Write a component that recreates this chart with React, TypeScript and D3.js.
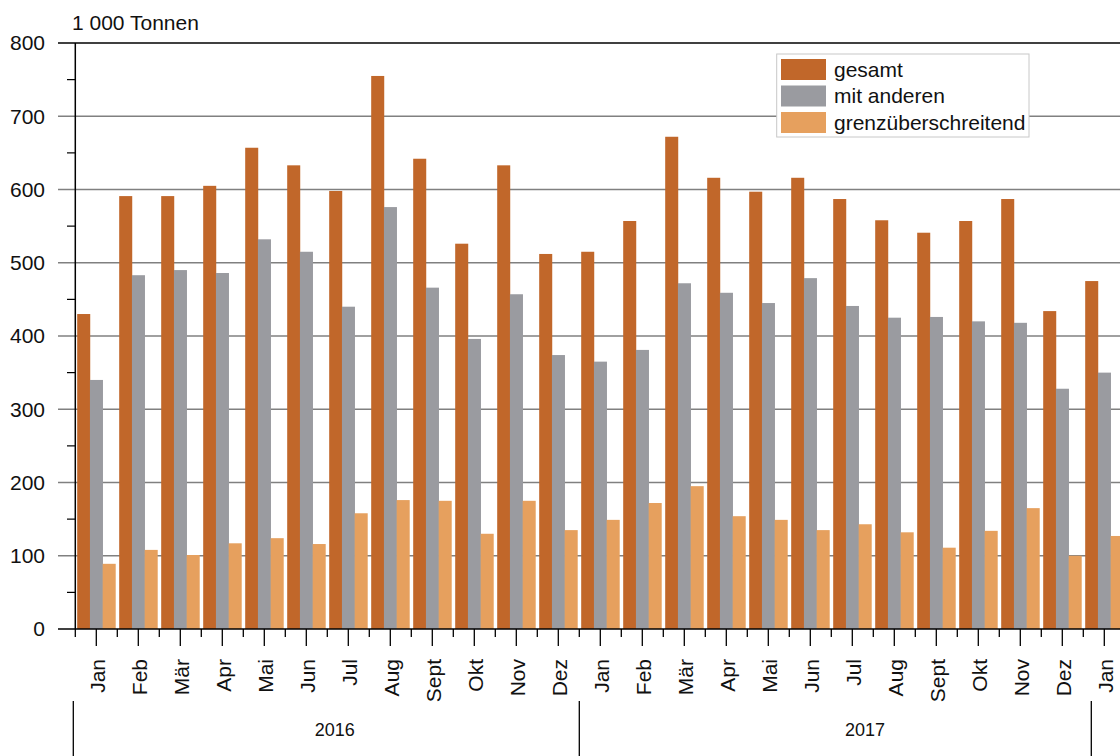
import React from 'react';
import * as d3 from 'd3';

const months = ['Jan','Feb','Mär','Apr','Mai','Jun','Jul','Aug','Sept','Okt','Nov','Dez','Jan','Feb','Mär','Apr','Mai','Jun','Jul','Aug','Sept','Okt','Nov','Dez','Jan'];
const gesamt = [430,591,591,605,657,633,598,755,642,526,633,512,515,557,672,616,597,616,587,558,541,557,587,434,475];
const mitAnderen = [340,483,490,486,532,515,440,576,466,396,457,374,365,381,472,459,445,479,441,425,426,420,418,328,350];
const grenzueberschreitend = [89,108,101,117,124,116,158,176,175,130,175,135,149,172,195,154,149,135,143,132,111,134,165,100,127];
const seriesNames = ['gesamt','mit anderen','grenzüberschreitend'];
const seriesColors = ['#C1672A','#9A9BA0','#E6A05E'];
const yTicks = [0,100,200,300,400,500,600,700,800];
const yMinorTicks = [50,150,250,350,450,550,650,750];
const years = ['2016','2017'];
const yearLabelIndex = [6.18, 18.8];
const yearSeparators = [0, 12, 24];
const yearSeparatorShift = [-2, 0, 8];
const unitLabel = '1 000 Tonnen';

const W = 1120, H = 756;
const X0 = 75.3, STEP = 42;
const FONT = 'Liberation Sans, Arial, sans-serif';

export default function App() {
  const keys = months.map((_, i) => i);
  const x = d3.scaleBand<number>().domain(keys).range([X0, X0 + STEP * months.length]).paddingInner(0.09).paddingOuter(0.045);
  const step = x.step();
  const boundary = (i: number) => X0 + i * step;
  const inner = d3.scaleBand<number>().domain([0, 1, 2]).range([0, x.bandwidth()]).padding(0);
  const y = d3.scaleLinear().domain([0, 800]).range([629, 43]);
  const series = [gesamt, mitAnderen, grenzueberschreitend];

  return (
    <svg width={W} height={H} style={{ position: 'absolute', left: 0, top: 0, background: '#fff' }} fontFamily={FONT}>
      <rect x={0} y={0} width={W} height={H} fill="#fff" />
      {yTicks.filter(t => t > 0 && t < 800).map(t => (
        <line key={'g' + t} x1={58} x2={W} y1={y(t)} y2={y(t)} stroke="#808080" strokeWidth={1.3} />
      ))}
      {series.map((vals, s) => (
        <g key={'s' + s} fill={seriesColors[s]}>
          {vals.map((v, i) => (
            <rect key={i} x={(x(i) as number) + (inner(s) as number)} y={y(v)} width={inner.bandwidth() + 0.3} height={y(0) - y(v)} />
          ))}
        </g>
      ))}
      <line x1={58} x2={W} y1={y(800)} y2={y(800)} stroke="#000" strokeWidth={1.3} />
      <line x1={58} x2={W} y1={y(0)} y2={y(0)} stroke="#000" strokeWidth={1.5} />
      <line x1={X0} x2={X0} y1={y(800)} y2={y(0)} stroke="#000" strokeWidth={1.5} />
      {yMinorTicks.map(t => (
        <line key={'m' + t} x1={67} x2={X0} y1={y(t)} y2={y(t)} stroke="#000" strokeWidth={1.2} />
      ))}
      {yTicks.map(t => (
        <text key={'yl' + t} x={45} y={y(t)} dy="0.35em" textAnchor="end" fontSize={21} fill="#111">{t}</text>
      ))}
      <text x={72} y={30} fontSize={21} fill="#111">{unitLabel}</text>
      {d3.range(months.length + 1).map(i => (
        <line key={'xb' + i} x1={boundary(i)} x2={boundary(i)} y1={y(0)} y2={y(0) + 8} stroke="#000" strokeWidth={1.3} />
      ))}
      {months.map((m, i) => {
        const cx = boundary(i) + step / 2;
        return (
          <g key={'xm' + i}>
            <line x1={cx} x2={cx} y1={y(0)} y2={y(0) + 17} stroke="#000" strokeWidth={1.3} />
            <text transform={`translate(${cx + 1},659) rotate(-90)`} textAnchor="end" dy="0.35em" fontSize={21} fill="#111">{m}</text>
          </g>
        );
      })}
      {yearSeparators.map((b, i) => (
        <line key={'ys' + i} x1={boundary(b) + yearSeparatorShift[i]} x2={boundary(b) + yearSeparatorShift[i]} y1={701} y2={H} stroke="#000" strokeWidth={1.3} />
      ))}
      {years.map((yr, i) => (
        <text key={'yr' + i} x={boundary(yearLabelIndex[i])} y={736} textAnchor="middle" fontSize={18} fill="#111">{yr}</text>
      ))}
      <g>
        <rect x={776.7} y={54} width={252.3} height={83} fill="#fff" stroke="#c8c8c8" strokeWidth={1} />
        {seriesNames.map((n, i) => (
          <g key={'lg' + i}>
            <rect x={781} y={59 + i * 26.5} width={45} height={21} fill={seriesColors[i]} />
            <text x={834} y={69.5 + i * 26.5} dy="0.35em" fontSize={21} fill="#111">{n}</text>
          </g>
        ))}
      </g>
    </svg>
  );
}
